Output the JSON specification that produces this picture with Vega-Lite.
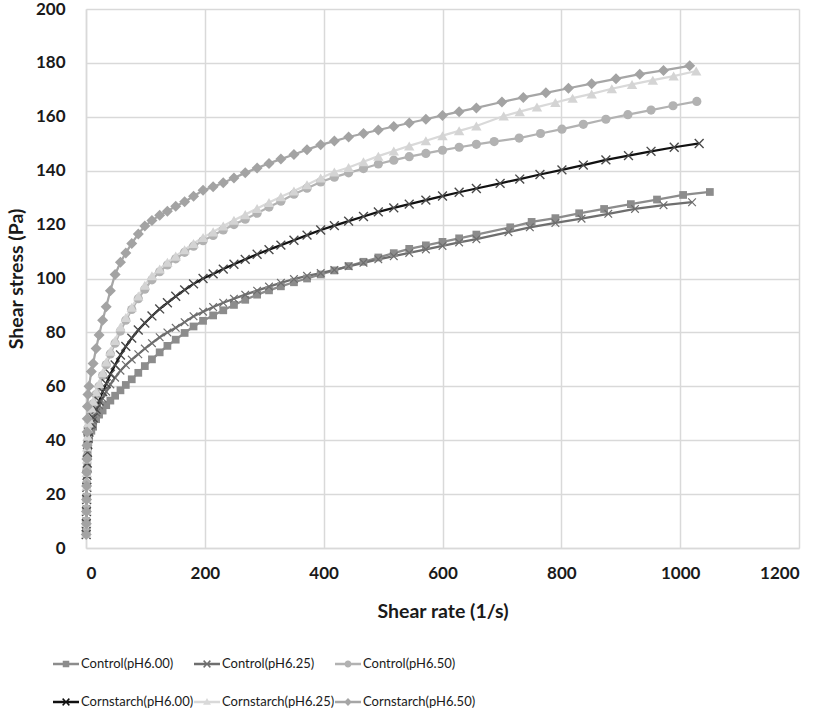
{
  "$schema": "https://vega.github.io/schema/vega-lite/v6.json",
  "autosize": {"type": "none"},
  "width": 713,
  "height": 539,
  "padding": {"left": 86, "top": 9, "right": 28, "bottom": 170},
  "background": "white",
  "config": {
    "view": {"stroke": null},
    "axis": {
      "labelFont": "Lato", "labelFontWeight": "bold", "labelFontSize": 17, "labelColor": "#1a1a1a",
      "titleFont": "Lato", "titleFontWeight": "bold", "titleFontSize": 19.5, "titleColor": "#1a1a1a",
      "ticks": false, "gridColor": "#d9d9d9", "gridWidth": 1.5, "domainColor": "#d9d9d9", "domainWidth": 1.5
    },
    "legend": {
      "labelFont": "Lato", "labelFontSize": 13, "labelColor": "#1a1a1a", "padding": 0
    }
  },
  "data": {"values": [
{"series":"Control(pH6.00)","x":0.3,"y":6},{"series":"Control(pH6.00)","x":0.5,"y":10},{"series":"Control(pH6.00)","x":0.8,"y":14.5},{"series":"Control(pH6.00)","x":1.1,"y":19},{"series":"Control(pH6.00)","x":1.4,"y":23.5},{"series":"Control(pH6.00)","x":1.8,"y":28},{"series":"Control(pH6.00)","x":2.2,"y":32},{"series":"Control(pH6.00)","x":2.7,"y":35.5},{"series":"Control(pH6.00)","x":3.2,"y":38},{"series":"Control(pH6.00)","x":3.9,"y":39.8},{"series":"Control(pH6.00)","x":5,"y":41},{"series":"Control(pH6.00)","x":9,"y":43.5},{"series":"Control(pH6.00)","x":12,"y":45},{"series":"Control(pH6.00)","x":17,"y":47.8},{"series":"Control(pH6.00)","x":22,"y":49.5},{"series":"Control(pH6.00)","x":28,"y":51},{"series":"Control(pH6.00)","x":34,"y":53},{"series":"Control(pH6.00)","x":41,"y":54.7},{"series":"Control(pH6.00)","x":49,"y":56.5},{"series":"Control(pH6.00)","x":58,"y":58.5},{"series":"Control(pH6.00)","x":67,"y":60.5},{"series":"Control(pH6.00)","x":77,"y":62.6},{"series":"Control(pH6.00)","x":88,"y":65},{"series":"Control(pH6.00)","x":99,"y":67.5},{"series":"Control(pH6.00)","x":111,"y":70},{"series":"Control(pH6.00)","x":124,"y":72.6},{"series":"Control(pH6.00)","x":137,"y":75},{"series":"Control(pH6.00)","x":151,"y":77.3},{"series":"Control(pH6.00)","x":166,"y":79.8},{"series":"Control(pH6.00)","x":181,"y":82.2},{"series":"Control(pH6.00)","x":197,"y":84.3},{"series":"Control(pH6.00)","x":214,"y":86.3},{"series":"Control(pH6.00)","x":231,"y":88.2},{"series":"Control(pH6.00)","x":249,"y":90.2},{"series":"Control(pH6.00)","x":268,"y":92.1},{"series":"Control(pH6.00)","x":288,"y":94},{"series":"Control(pH6.00)","x":308,"y":95.6},{"series":"Control(pH6.00)","x":328,"y":97.1},{"series":"Control(pH6.00)","x":350,"y":98.6},{"series":"Control(pH6.00)","x":372,"y":100},{"series":"Control(pH6.00)","x":395,"y":101.5},{"series":"Control(pH6.00)","x":418,"y":103},{"series":"Control(pH6.00)","x":442,"y":104.6},{"series":"Control(pH6.00)","x":467,"y":106.2},{"series":"Control(pH6.00)","x":492,"y":107.8},{"series":"Control(pH6.00)","x":518,"y":109.4},{"series":"Control(pH6.00)","x":544,"y":111},{"series":"Control(pH6.00)","x":572,"y":112.3},{"series":"Control(pH6.00)","x":600,"y":113.6},{"series":"Control(pH6.00)","x":628,"y":114.9},{"series":"Control(pH6.00)","x":657,"y":116.3},{"series":"Control(pH6.00)","x":714,"y":119},{"series":"Control(pH6.00)","x":750,"y":121},{"series":"Control(pH6.00)","x":790,"y":122.4},{"series":"Control(pH6.00)","x":830,"y":124.2},{"series":"Control(pH6.00)","x":872,"y":125.8},{"series":"Control(pH6.00)","x":917,"y":127.6},{"series":"Control(pH6.00)","x":961,"y":129.3},{"series":"Control(pH6.00)","x":1005,"y":131},{"series":"Control(pH6.00)","x":1050,"y":132.1},
{"series":"Control(pH6.25)","x":0.3,"y":5.5},{"series":"Control(pH6.25)","x":0.5,"y":9.5},{"series":"Control(pH6.25)","x":0.8,"y":14},{"series":"Control(pH6.25)","x":1.1,"y":18.5},{"series":"Control(pH6.25)","x":1.4,"y":23},{"series":"Control(pH6.25)","x":1.8,"y":27.5},{"series":"Control(pH6.25)","x":2.2,"y":31.5},{"series":"Control(pH6.25)","x":2.7,"y":35},{"series":"Control(pH6.25)","x":3.2,"y":38},{"series":"Control(pH6.25)","x":3.9,"y":40.3},{"series":"Control(pH6.25)","x":5,"y":42},{"series":"Control(pH6.25)","x":9,"y":45.5},{"series":"Control(pH6.25)","x":12,"y":47.3},{"series":"Control(pH6.25)","x":17,"y":50.3},{"series":"Control(pH6.25)","x":22,"y":53},{"series":"Control(pH6.25)","x":28,"y":55.5},{"series":"Control(pH6.25)","x":34,"y":58},{"series":"Control(pH6.25)","x":41,"y":60.7},{"series":"Control(pH6.25)","x":49,"y":63.2},{"series":"Control(pH6.25)","x":58,"y":65.8},{"series":"Control(pH6.25)","x":67,"y":67.9},{"series":"Control(pH6.25)","x":77,"y":69.9},{"series":"Control(pH6.25)","x":88,"y":71.9},{"series":"Control(pH6.25)","x":99,"y":74},{"series":"Control(pH6.25)","x":111,"y":76},{"series":"Control(pH6.25)","x":124,"y":78.2},{"series":"Control(pH6.25)","x":137,"y":80},{"series":"Control(pH6.25)","x":151,"y":81.7},{"series":"Control(pH6.25)","x":166,"y":83.8},{"series":"Control(pH6.25)","x":181,"y":86},{"series":"Control(pH6.25)","x":197,"y":87.7},{"series":"Control(pH6.25)","x":214,"y":89.4},{"series":"Control(pH6.25)","x":231,"y":91},{"series":"Control(pH6.25)","x":249,"y":92.5},{"series":"Control(pH6.25)","x":268,"y":94},{"series":"Control(pH6.25)","x":288,"y":95.5},{"series":"Control(pH6.25)","x":308,"y":97},{"series":"Control(pH6.25)","x":328,"y":98.4},{"series":"Control(pH6.25)","x":350,"y":99.8},{"series":"Control(pH6.25)","x":372,"y":101},{"series":"Control(pH6.25)","x":395,"y":102},{"series":"Control(pH6.25)","x":418,"y":103.2},{"series":"Control(pH6.25)","x":442,"y":104.5},{"series":"Control(pH6.25)","x":467,"y":105.8},{"series":"Control(pH6.25)","x":492,"y":107.1},{"series":"Control(pH6.25)","x":518,"y":108.3},{"series":"Control(pH6.25)","x":544,"y":109.5},{"series":"Control(pH6.25)","x":572,"y":110.8},{"series":"Control(pH6.25)","x":600,"y":112.1},{"series":"Control(pH6.25)","x":628,"y":113.4},{"series":"Control(pH6.25)","x":657,"y":114.6},{"series":"Control(pH6.25)","x":711,"y":117.2},{"series":"Control(pH6.25)","x":747,"y":119},{"series":"Control(pH6.25)","x":790,"y":120.6},{"series":"Control(pH6.25)","x":834,"y":122.2},{"series":"Control(pH6.25)","x":879,"y":124},{"series":"Control(pH6.25)","x":924,"y":125.8},{"series":"Control(pH6.25)","x":972,"y":127.2},{"series":"Control(pH6.25)","x":1020,"y":128.3},
{"series":"Control(pH6.50)","x":0.3,"y":6},{"series":"Control(pH6.50)","x":0.5,"y":10},{"series":"Control(pH6.50)","x":0.7,"y":14.5},{"series":"Control(pH6.50)","x":0.9,"y":19},{"series":"Control(pH6.50)","x":1.2,"y":24},{"series":"Control(pH6.50)","x":1.5,"y":29},{"series":"Control(pH6.50)","x":1.8,"y":34},{"series":"Control(pH6.50)","x":2.2,"y":38.5},{"series":"Control(pH6.50)","x":2.7,"y":42},{"series":"Control(pH6.50)","x":3.4,"y":44.5},{"series":"Control(pH6.50)","x":5,"y":47.5},{"series":"Control(pH6.50)","x":9,"y":51},{"series":"Control(pH6.50)","x":12,"y":53.5},{"series":"Control(pH6.50)","x":17,"y":57},{"series":"Control(pH6.50)","x":22,"y":60},{"series":"Control(pH6.50)","x":28,"y":64},{"series":"Control(pH6.50)","x":34,"y":68},{"series":"Control(pH6.50)","x":41,"y":72},{"series":"Control(pH6.50)","x":49,"y":76},{"series":"Control(pH6.50)","x":58,"y":80.5},{"series":"Control(pH6.50)","x":67,"y":84.5},{"series":"Control(pH6.50)","x":77,"y":88.5},{"series":"Control(pH6.50)","x":88,"y":92.5},{"series":"Control(pH6.50)","x":99,"y":96},{"series":"Control(pH6.50)","x":111,"y":99.5},{"series":"Control(pH6.50)","x":124,"y":102.5},{"series":"Control(pH6.50)","x":137,"y":105},{"series":"Control(pH6.50)","x":151,"y":107.3},{"series":"Control(pH6.50)","x":166,"y":109.7},{"series":"Control(pH6.50)","x":181,"y":112},{"series":"Control(pH6.50)","x":197,"y":114},{"series":"Control(pH6.50)","x":214,"y":116},{"series":"Control(pH6.50)","x":231,"y":118},{"series":"Control(pH6.50)","x":249,"y":120},{"series":"Control(pH6.50)","x":268,"y":122},{"series":"Control(pH6.50)","x":288,"y":124.2},{"series":"Control(pH6.50)","x":308,"y":126.5},{"series":"Control(pH6.50)","x":328,"y":128.7},{"series":"Control(pH6.50)","x":350,"y":131.3},{"series":"Control(pH6.50)","x":372,"y":133.5},{"series":"Control(pH6.50)","x":395,"y":135.8},{"series":"Control(pH6.50)","x":418,"y":137.6},{"series":"Control(pH6.50)","x":442,"y":139.2},{"series":"Control(pH6.50)","x":467,"y":140.8},{"series":"Control(pH6.50)","x":492,"y":142.5},{"series":"Control(pH6.50)","x":518,"y":143.9},{"series":"Control(pH6.50)","x":544,"y":145.2},{"series":"Control(pH6.50)","x":572,"y":146.4},{"series":"Control(pH6.50)","x":600,"y":147.6},{"series":"Control(pH6.50)","x":628,"y":148.7},{"series":"Control(pH6.50)","x":657,"y":149.8},{"series":"Control(pH6.50)","x":687,"y":150.8},{"series":"Control(pH6.50)","x":729,"y":152.1},{"series":"Control(pH6.50)","x":765,"y":153.8},{"series":"Control(pH6.50)","x":801,"y":155.4},{"series":"Control(pH6.50)","x":837,"y":157.2},{"series":"Control(pH6.50)","x":875,"y":159.1},{"series":"Control(pH6.50)","x":912,"y":160.8},{"series":"Control(pH6.50)","x":951,"y":162.5},{"series":"Control(pH6.50)","x":988,"y":164.1},{"series":"Control(pH6.50)","x":1028,"y":165.7},
{"series":"Cornstarch(pH6.00)","x":0.3,"y":5},{"series":"Cornstarch(pH6.00)","x":0.5,"y":9},{"series":"Cornstarch(pH6.00)","x":0.8,"y":13.5},{"series":"Cornstarch(pH6.00)","x":1.1,"y":18},{"series":"Cornstarch(pH6.00)","x":1.4,"y":22.5},{"series":"Cornstarch(pH6.00)","x":1.7,"y":27},{"series":"Cornstarch(pH6.00)","x":2.1,"y":31.5},{"series":"Cornstarch(pH6.00)","x":2.5,"y":35.5},{"series":"Cornstarch(pH6.00)","x":3,"y":38.5},{"series":"Cornstarch(pH6.00)","x":3.7,"y":40.8},{"series":"Cornstarch(pH6.00)","x":5,"y":43},{"series":"Cornstarch(pH6.00)","x":9,"y":46.3},{"series":"Cornstarch(pH6.00)","x":12,"y":48.3},{"series":"Cornstarch(pH6.00)","x":17,"y":51.5},{"series":"Cornstarch(pH6.00)","x":22,"y":54.5},{"series":"Cornstarch(pH6.00)","x":28,"y":58},{"series":"Cornstarch(pH6.00)","x":34,"y":61},{"series":"Cornstarch(pH6.00)","x":41,"y":64.5},{"series":"Cornstarch(pH6.00)","x":49,"y":67.9},{"series":"Cornstarch(pH6.00)","x":58,"y":71.6},{"series":"Cornstarch(pH6.00)","x":67,"y":74.8},{"series":"Cornstarch(pH6.00)","x":77,"y":77.9},{"series":"Cornstarch(pH6.00)","x":88,"y":80.9},{"series":"Cornstarch(pH6.00)","x":99,"y":83.5},{"series":"Cornstarch(pH6.00)","x":111,"y":86.1},{"series":"Cornstarch(pH6.00)","x":124,"y":88.7},{"series":"Cornstarch(pH6.00)","x":137,"y":91},{"series":"Cornstarch(pH6.00)","x":151,"y":93.4},{"series":"Cornstarch(pH6.00)","x":166,"y":95.8},{"series":"Cornstarch(pH6.00)","x":181,"y":98},{"series":"Cornstarch(pH6.00)","x":197,"y":100},{"series":"Cornstarch(pH6.00)","x":214,"y":101.7},{"series":"Cornstarch(pH6.00)","x":231,"y":103.5},{"series":"Cornstarch(pH6.00)","x":249,"y":105.3},{"series":"Cornstarch(pH6.00)","x":268,"y":107.1},{"series":"Cornstarch(pH6.00)","x":288,"y":109},{"series":"Cornstarch(pH6.00)","x":308,"y":110.7},{"series":"Cornstarch(pH6.00)","x":328,"y":112.4},{"series":"Cornstarch(pH6.00)","x":350,"y":114.2},{"series":"Cornstarch(pH6.00)","x":372,"y":116.1},{"series":"Cornstarch(pH6.00)","x":395,"y":118},{"series":"Cornstarch(pH6.00)","x":418,"y":119.6},{"series":"Cornstarch(pH6.00)","x":442,"y":121.3},{"series":"Cornstarch(pH6.00)","x":467,"y":123},{"series":"Cornstarch(pH6.00)","x":492,"y":124.7},{"series":"Cornstarch(pH6.00)","x":518,"y":126.2},{"series":"Cornstarch(pH6.00)","x":544,"y":127.6},{"series":"Cornstarch(pH6.00)","x":572,"y":129.1},{"series":"Cornstarch(pH6.00)","x":600,"y":130.6},{"series":"Cornstarch(pH6.00)","x":628,"y":132},{"series":"Cornstarch(pH6.00)","x":657,"y":133.4},{"series":"Cornstarch(pH6.00)","x":697,"y":135.3},{"series":"Cornstarch(pH6.00)","x":730,"y":136.9},{"series":"Cornstarch(pH6.00)","x":764,"y":138.6},{"series":"Cornstarch(pH6.00)","x":801,"y":140.3},{"series":"Cornstarch(pH6.00)","x":837,"y":142.1},{"series":"Cornstarch(pH6.00)","x":875,"y":144},{"series":"Cornstarch(pH6.00)","x":913,"y":145.6},{"series":"Cornstarch(pH6.00)","x":951,"y":147.2},{"series":"Cornstarch(pH6.00)","x":990,"y":148.7},{"series":"Cornstarch(pH6.00)","x":1032,"y":150.1},
{"series":"Cornstarch(pH6.25)","x":0.3,"y":5.5},{"series":"Cornstarch(pH6.25)","x":0.5,"y":9.5},{"series":"Cornstarch(pH6.25)","x":0.7,"y":14},{"series":"Cornstarch(pH6.25)","x":0.9,"y":18.5},{"series":"Cornstarch(pH6.25)","x":1.1,"y":23},{"series":"Cornstarch(pH6.25)","x":1.4,"y":28},{"series":"Cornstarch(pH6.25)","x":1.7,"y":33},{"series":"Cornstarch(pH6.25)","x":2,"y":37.5},{"series":"Cornstarch(pH6.25)","x":2.5,"y":41.5},{"series":"Cornstarch(pH6.25)","x":3.2,"y":44.5},{"series":"Cornstarch(pH6.25)","x":4,"y":46.5},{"series":"Cornstarch(pH6.25)","x":5,"y":48},{"series":"Cornstarch(pH6.25)","x":9,"y":52},{"series":"Cornstarch(pH6.25)","x":12,"y":54.5},{"series":"Cornstarch(pH6.25)","x":17,"y":58},{"series":"Cornstarch(pH6.25)","x":22,"y":61},{"series":"Cornstarch(pH6.25)","x":28,"y":65},{"series":"Cornstarch(pH6.25)","x":34,"y":69},{"series":"Cornstarch(pH6.25)","x":41,"y":73},{"series":"Cornstarch(pH6.25)","x":49,"y":77},{"series":"Cornstarch(pH6.25)","x":58,"y":82},{"series":"Cornstarch(pH6.25)","x":67,"y":85.5},{"series":"Cornstarch(pH6.25)","x":77,"y":89.3},{"series":"Cornstarch(pH6.25)","x":88,"y":93.5},{"series":"Cornstarch(pH6.25)","x":99,"y":97.5},{"series":"Cornstarch(pH6.25)","x":111,"y":101},{"series":"Cornstarch(pH6.25)","x":124,"y":103.5},{"series":"Cornstarch(pH6.25)","x":137,"y":106},{"series":"Cornstarch(pH6.25)","x":151,"y":108.3},{"series":"Cornstarch(pH6.25)","x":166,"y":110.7},{"series":"Cornstarch(pH6.25)","x":181,"y":113},{"series":"Cornstarch(pH6.25)","x":197,"y":115.2},{"series":"Cornstarch(pH6.25)","x":214,"y":117.3},{"series":"Cornstarch(pH6.25)","x":231,"y":119.5},{"series":"Cornstarch(pH6.25)","x":249,"y":121.6},{"series":"Cornstarch(pH6.25)","x":268,"y":123.7},{"series":"Cornstarch(pH6.25)","x":288,"y":126},{"series":"Cornstarch(pH6.25)","x":308,"y":128.2},{"series":"Cornstarch(pH6.25)","x":328,"y":130.3},{"series":"Cornstarch(pH6.25)","x":350,"y":132.5},{"series":"Cornstarch(pH6.25)","x":372,"y":134.8},{"series":"Cornstarch(pH6.25)","x":395,"y":137.3},{"series":"Cornstarch(pH6.25)","x":418,"y":139.5},{"series":"Cornstarch(pH6.25)","x":442,"y":141.2},{"series":"Cornstarch(pH6.25)","x":467,"y":143.3},{"series":"Cornstarch(pH6.25)","x":492,"y":145.4},{"series":"Cornstarch(pH6.25)","x":518,"y":147.3},{"series":"Cornstarch(pH6.25)","x":544,"y":149.2},{"series":"Cornstarch(pH6.25)","x":572,"y":151.1},{"series":"Cornstarch(pH6.25)","x":600,"y":153},{"series":"Cornstarch(pH6.25)","x":628,"y":154.8},{"series":"Cornstarch(pH6.25)","x":657,"y":156.6},{"series":"Cornstarch(pH6.25)","x":703,"y":160.3},{"series":"Cornstarch(pH6.25)","x":730,"y":161.9},{"series":"Cornstarch(pH6.25)","x":759,"y":163.6},{"series":"Cornstarch(pH6.25)","x":790,"y":165.3},{"series":"Cornstarch(pH6.25)","x":819,"y":166.9},{"series":"Cornstarch(pH6.25)","x":851,"y":168.5},{"series":"Cornstarch(pH6.25)","x":885,"y":170.4},{"series":"Cornstarch(pH6.25)","x":919,"y":172},{"series":"Cornstarch(pH6.25)","x":954,"y":173.6},{"series":"Cornstarch(pH6.25)","x":989,"y":175.1},{"series":"Cornstarch(pH6.25)","x":1027,"y":177},
{"series":"Cornstarch(pH6.50)","x":0.3,"y":5},{"series":"Cornstarch(pH6.50)","x":0.5,"y":9},{"series":"Cornstarch(pH6.50)","x":0.7,"y":13.5},{"series":"Cornstarch(pH6.50)","x":0.9,"y":18},{"series":"Cornstarch(pH6.50)","x":1.1,"y":23},{"series":"Cornstarch(pH6.50)","x":1.3,"y":28},{"series":"Cornstarch(pH6.50)","x":1.5,"y":33},{"series":"Cornstarch(pH6.50)","x":1.7,"y":38},{"series":"Cornstarch(pH6.50)","x":1.9,"y":43},{"series":"Cornstarch(pH6.50)","x":2.1,"y":48},{"series":"Cornstarch(pH6.50)","x":2.4,"y":52.5},{"series":"Cornstarch(pH6.50)","x":3.3,"y":57},{"series":"Cornstarch(pH6.50)","x":5,"y":60},{"series":"Cornstarch(pH6.50)","x":9,"y":65.5},{"series":"Cornstarch(pH6.50)","x":12,"y":68.5},{"series":"Cornstarch(pH6.50)","x":17,"y":74},{"series":"Cornstarch(pH6.50)","x":22,"y":79},{"series":"Cornstarch(pH6.50)","x":28,"y":84.5},{"series":"Cornstarch(pH6.50)","x":34,"y":89.5},{"series":"Cornstarch(pH6.50)","x":41,"y":95.5},{"series":"Cornstarch(pH6.50)","x":49,"y":101.5},{"series":"Cornstarch(pH6.50)","x":58,"y":106},{"series":"Cornstarch(pH6.50)","x":67,"y":109.5},{"series":"Cornstarch(pH6.50)","x":77,"y":113},{"series":"Cornstarch(pH6.50)","x":88,"y":116.5},{"series":"Cornstarch(pH6.50)","x":99,"y":119.5},{"series":"Cornstarch(pH6.50)","x":111,"y":121.5},{"series":"Cornstarch(pH6.50)","x":124,"y":123.5},{"series":"Cornstarch(pH6.50)","x":137,"y":125},{"series":"Cornstarch(pH6.50)","x":151,"y":126.8},{"series":"Cornstarch(pH6.50)","x":166,"y":128.5},{"series":"Cornstarch(pH6.50)","x":181,"y":130.5},{"series":"Cornstarch(pH6.50)","x":197,"y":132.7},{"series":"Cornstarch(pH6.50)","x":214,"y":134},{"series":"Cornstarch(pH6.50)","x":231,"y":135.5},{"series":"Cornstarch(pH6.50)","x":249,"y":137.3},{"series":"Cornstarch(pH6.50)","x":268,"y":139.2},{"series":"Cornstarch(pH6.50)","x":288,"y":141},{"series":"Cornstarch(pH6.50)","x":308,"y":142.7},{"series":"Cornstarch(pH6.50)","x":328,"y":144.3},{"series":"Cornstarch(pH6.50)","x":350,"y":146},{"series":"Cornstarch(pH6.50)","x":372,"y":147.8},{"series":"Cornstarch(pH6.50)","x":395,"y":149.6},{"series":"Cornstarch(pH6.50)","x":418,"y":151},{"series":"Cornstarch(pH6.50)","x":442,"y":152.5},{"series":"Cornstarch(pH6.50)","x":467,"y":153.8},{"series":"Cornstarch(pH6.50)","x":492,"y":155.1},{"series":"Cornstarch(pH6.50)","x":518,"y":156.4},{"series":"Cornstarch(pH6.50)","x":544,"y":157.7},{"series":"Cornstarch(pH6.50)","x":572,"y":159.1},{"series":"Cornstarch(pH6.50)","x":600,"y":160.5},{"series":"Cornstarch(pH6.50)","x":628,"y":161.9},{"series":"Cornstarch(pH6.50)","x":657,"y":163.3},{"series":"Cornstarch(pH6.50)","x":700,"y":165.5},{"series":"Cornstarch(pH6.50)","x":736,"y":167.2},{"series":"Cornstarch(pH6.50)","x":774,"y":168.9},{"series":"Cornstarch(pH6.50)","x":812,"y":170.6},{"series":"Cornstarch(pH6.50)","x":851,"y":172.3},{"series":"Cornstarch(pH6.50)","x":892,"y":174.1},{"series":"Cornstarch(pH6.50)","x":932,"y":175.8},{"series":"Cornstarch(pH6.50)","x":972,"y":177.2},{"series":"Cornstarch(pH6.50)","x":1016,"y":178.9}
  ]},
  "encoding": {
    "x": {"field": "x", "type": "quantitative", "scale": {"domain": [0, 1200], "nice": false},
      "axis": {"values": [0, 200, 400, 600, 800, 1000, 1200], "format": "d", "title": "Shear rate (1/s)", "labelPadding": 17, "titlePadding": 21}},
    "y": {"field": "y", "type": "quantitative", "scale": {"domain": [0, 200], "nice": false},
      "axis": {"values": [0, 20, 40, 60, 80, 100, 120, 140, 160, 180, 200], "format": "d", "title": "Shear stress (Pa)", "labelPadding": 21, "titlePadding": 9}}
  },
  "layer": [
    {
      "mark": {"type": "line", "strokeWidth": 2.25},
      "encoding": {
        "color": {"field": "series", "type": "nominal", "legend": null,
          "scale": {"domain": ["Control(pH6.00)", "Control(pH6.25)", "Control(pH6.50)", "Cornstarch(pH6.00)", "Cornstarch(pH6.25)", "Cornstarch(pH6.50)"],
            "range": ["#8c8c8c", "#6e6e6e", "#b2b2b2", "#111111", "#d9d9d9", "#a6a6a6"]}}
      }
    },
    {
      "mark": {"type": "point", "filled": true, "opacity": 1, "strokeOpacity": 0},
      "encoding": {
        "color": {"field": "series", "type": "nominal", "legend": null,
          "scale": {"domain": ["Control(pH6.00)", "Control(pH6.25)", "Control(pH6.50)", "Cornstarch(pH6.00)", "Cornstarch(pH6.25)", "Cornstarch(pH6.50)"],
            "range": ["#8c8c8c", "#6e6e6e", "#b2b2b2", "#4a4a4a", "#d4d4d4", "#a3a3a3"]}},
        "shape": {"field": "series", "type": "nominal", "legend": null,
          "scale": {"domain": ["Control(pH6.00)", "Control(pH6.25)", "Control(pH6.50)", "Cornstarch(pH6.00)", "Cornstarch(pH6.25)", "Cornstarch(pH6.50)"],
            "range": ["square", "M-1,-0.8L-0.8,-1L0,-0.2L0.8,-1L1,-0.8L0.2,0L1,0.8L0.8,1L0,0.2L-0.8,1L-1,0.8L-0.2,0Z", "circle", "M-1,-0.8L-0.8,-1L0,-0.2L0.8,-1L1,-0.8L0.2,0L1,0.8L0.8,1L0,0.2L-0.8,1L-1,0.8L-0.2,0Z", "triangle-up", "diamond"]}},
        "size": {"field": "series", "type": "nominal", "legend": null,
          "scale": {"domain": ["Control(pH6.00)", "Control(pH6.25)", "Control(pH6.50)", "Cornstarch(pH6.00)", "Cornstarch(pH6.25)", "Cornstarch(pH6.50)"],
            "range": [60, 121, 72, 121, 80, 60]}}
      }
    },
    {
      "transform": [{"filter": "false"}],
      "mark": {"type": "point", "filled": true, "opacity": 1, "strokeOpacity": 0},
      "encoding": {
        "color": {"field": "series", "type": "nominal",
          "scale": {"domain": ["Control(pH6.00)", "Control(pH6.25)", "Control(pH6.50)", "Cornstarch(pH6.00)", "Cornstarch(pH6.25)", "Cornstarch(pH6.50)"],
            "range": ["#8c8c8c", "#6e6e6e", "#b2b2b2", "#111111", "#d9d9d9", "#a6a6a6"]},
          "legend": {"title": null, "orient": "none", "legendX": -33, "legendY": 642, "direction": "horizontal", "columns": 3,
            "symbolSize": 676, "symbolStrokeWidth": 0, "symbolOpacity": 1, "labelOffset": 2, "columnPadding": 0, "rowPadding": 18, "labelLimit": 200}},
        "shape": {"field": "series", "type": "nominal",
          "scale": {"domain": ["Control(pH6.00)", "Control(pH6.25)", "Control(pH6.50)", "Cornstarch(pH6.00)", "Cornstarch(pH6.25)", "Cornstarch(pH6.50)"],
            "range": [
              "M-1,-0.09H1V0.09H-1Z M-0.25,-0.25H0.25V0.25H-0.25Z",
              "M-1,-0.09H1V0.09H-1Z M-0.3,-0.22L-0.22,-0.3L0,-0.08L0.22,-0.3L0.3,-0.22L0.08,0L0.3,0.22L0.22,0.3L0,0.08L-0.22,0.3L-0.3,0.22L-0.08,0Z",
              "M-1,-0.09H1V0.09H-1Z M-0.27,0A0.27,0.27 0 1,1 0.27,0A0.27,0.27 0 1,1 -0.27,0Z",
              "M-1,-0.09H1V0.09H-1Z M-0.3,-0.22L-0.22,-0.3L0,-0.08L0.22,-0.3L0.3,-0.22L0.08,0L0.3,0.22L0.22,0.3L0,0.08L-0.22,0.3L-0.3,0.22L-0.08,0Z",
              "M-1,-0.09H1V0.09H-1Z M0,-0.3L0.3,0.22L-0.3,0.22Z",
              "M-1,-0.09H1V0.09H-1Z M0,-0.3L0.3,0L0,0.3L-0.3,0Z"]},
          "legend": {"title": null, "orient": "none", "legendX": -33, "legendY": 642, "direction": "horizontal", "columns": 3,
            "symbolSize": 676, "symbolStrokeWidth": 0, "symbolOpacity": 1, "labelOffset": 2, "columnPadding": 0, "rowPadding": 18, "labelLimit": 200}}
      }
    }
  ],
  "resolve": {"scale": {"color": "independent", "shape": "independent"}}
}
